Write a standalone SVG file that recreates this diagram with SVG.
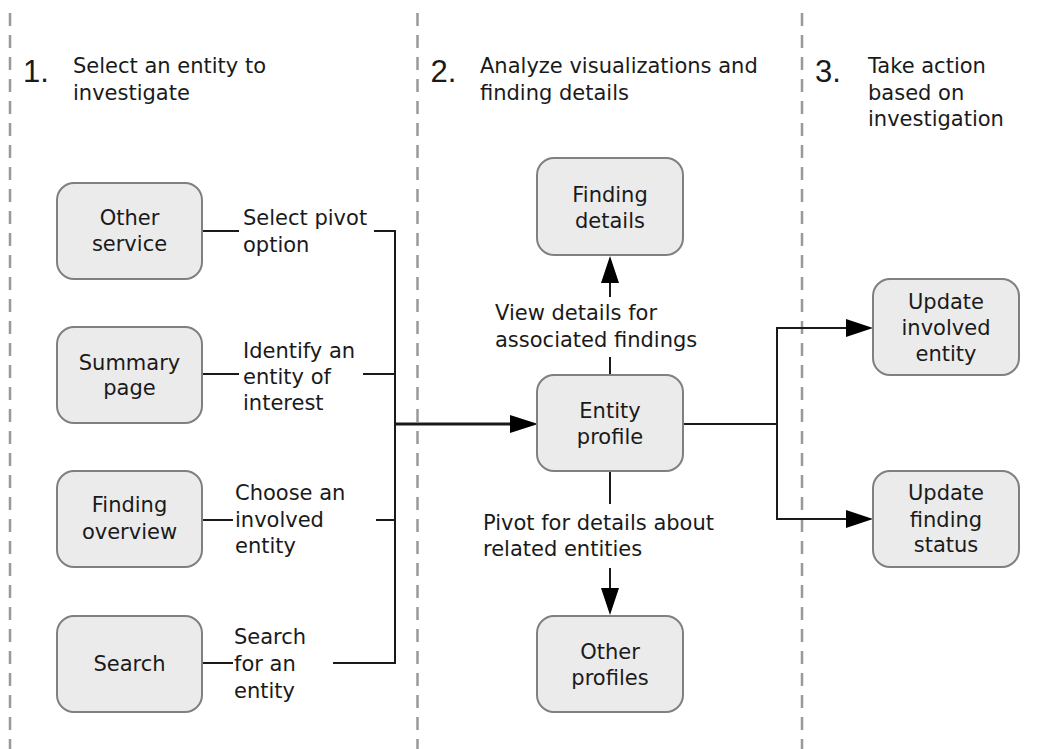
<svg xmlns="http://www.w3.org/2000/svg" width="1057" height="749" viewBox="0 0 1057 749">
<style>
text{font-family:"DejaVu Sans","Liberation Sans",sans-serif;font-size:21px;fill:#1a1a1a}
.num{font-family:"Liberation Sans",Arial,sans-serif;font-size:31px}
.ct{text-anchor:middle}
.box{fill:#ebebeb;stroke:#808080;stroke-width:2}
.sep{stroke:#999;stroke-width:2.5;stroke-dasharray:13 9;fill:none}
.ln{stroke:#1a1a1a;stroke-width:2;fill:none}
.thick{stroke:#1a1a1a;stroke-width:3;fill:none}
.ah{fill:#000}
</style>
<rect width="1057" height="749" fill="#fff"/>
<g id="separators">
<line class="sep" x1="10" y1="13" x2="10" y2="749"/>
<line class="sep" x1="417.5" y1="13" x2="417.5" y2="749"/>
<line class="sep" x1="802" y1="13" x2="802" y2="749"/>
</g>
<g id="headers">
<text class="num" x="23" y="81.5">1.</text>
<text x="73" y="73">Select an entity to</text>
<text x="73" y="99.5">investigate</text>
<text class="num" x="430.5" y="81.5">2.</text>
<text x="480" y="73">Analyze visualizations and</text>
<text x="480" y="100">finding details</text>
<text class="num" x="815" y="81.5">3.</text>
<text x="868" y="73">Take action</text>
<text x="868" y="100">based on</text>
<text x="868" y="126">investigation</text>
</g>
<g id="connectors">
<line class="ln" x1="202" y1="231" x2="239" y2="231"/>
<line class="ln" x1="374" y1="231" x2="395" y2="231"/>
<line class="ln" x1="202" y1="374" x2="239" y2="374"/>
<line class="ln" x1="363" y1="374" x2="395" y2="374"/>
<line class="ln" x1="202" y1="520" x2="233" y2="520"/>
<line class="ln" x1="376" y1="520" x2="395" y2="520"/>
<line class="ln" x1="202" y1="663" x2="233" y2="663"/>
<line class="ln" x1="333" y1="663" x2="395" y2="663"/>
<line class="ln" x1="395" y1="230" x2="395" y2="664"/>
<line class="thick" x1="395" y1="424" x2="512" y2="424"/>
<polygon class="ah" points="510,415 538,424 510,433"/>
<line class="ln" x1="610" y1="375" x2="610" y2="357"/>
<line class="ln" x1="610" y1="297" x2="610" y2="280"/>
<polygon class="ah" points="601,283 610,256 619,283"/>
<line class="ln" x1="610" y1="470" x2="610" y2="504"/>
<line class="ln" x1="610" y1="568" x2="610" y2="590"/>
<polygon class="ah" points="601,588 610,615 619,588"/>
<line class="ln" x1="683" y1="424" x2="777" y2="424"/>
<polyline class="ln" points="848,328 777,328 777,519 848,519"/>
<polygon class="ah" points="846,319 873,328 846,337"/>
<polygon class="ah" points="846,510 873,519 846,528"/>
</g>
<g id="edge-labels">
<text x="243" y="225">Select pivot</text>
<text x="243" y="252">option</text>
<text x="243" y="358">Identify an</text>
<text x="243" y="384">entity of</text>
<text x="243" y="410">interest</text>
<text x="235" y="500">Choose an</text>
<text x="235" y="527">involved</text>
<text x="235" y="553">entity</text>
<text x="234" y="644">Search</text>
<text x="234" y="671">for an</text>
<text x="234" y="698">entity</text>
<text x="495" y="320">View details for</text>
<text x="495" y="347">associated findings</text>
<text x="483" y="530">Pivot for details about</text>
<text x="483" y="556">related entities</text>
</g>
<g id="node-other-service">
<rect class="box" x="57" y="183" width="145" height="96" rx="17"/>
<text class="ct" x="129.5" y="224.5">Other</text>
<text class="ct" x="129.5" y="251">service</text>
</g>
<g id="node-summary-page">
<rect class="box" x="57" y="327" width="145" height="96" rx="17"/>
<text class="ct" x="129.5" y="369.5">Summary</text>
<text class="ct" x="129.5" y="395">page</text>
</g>
<g id="node-finding-overview">
<rect class="box" x="57" y="471" width="145" height="96" rx="17"/>
<text class="ct" x="129.5" y="512">Finding</text>
<text class="ct" x="129.5" y="539">overview</text>
</g>
<g id="node-search">
<rect class="box" x="57" y="616" width="145" height="96" rx="17"/>
<text class="ct" x="129.5" y="670.5">Search</text>
</g>
<g id="node-finding-details">
<rect class="box" x="537" y="158" width="146" height="97" rx="17"/>
<text class="ct" x="610" y="201.5">Finding</text>
<text class="ct" x="610" y="228">details</text>
</g>
<g id="node-entity-profile">
<rect class="box" x="537" y="375" width="146" height="96" rx="17"/>
<text class="ct" x="610" y="418">Entity</text>
<text class="ct" x="610" y="443.5">profile</text>
</g>
<g id="node-other-profiles">
<rect class="box" x="537" y="616" width="146" height="96" rx="17"/>
<text class="ct" x="610" y="659">Other</text>
<text class="ct" x="610" y="684.5">profiles</text>
</g>
<g id="node-update-involved-entity">
<rect class="box" x="873" y="279" width="146" height="96" rx="17"/>
<text class="ct" x="946" y="308.5">Update</text>
<text class="ct" x="946" y="335">involved</text>
<text class="ct" x="946" y="360.5">entity</text>
</g>
<g id="node-update-finding-status">
<rect class="box" x="873" y="471" width="146" height="96" rx="17"/>
<text class="ct" x="946" y="500">Update</text>
<text class="ct" x="946" y="526.5">finding</text>
<text class="ct" x="946" y="552">status</text>
</g>
</svg>
